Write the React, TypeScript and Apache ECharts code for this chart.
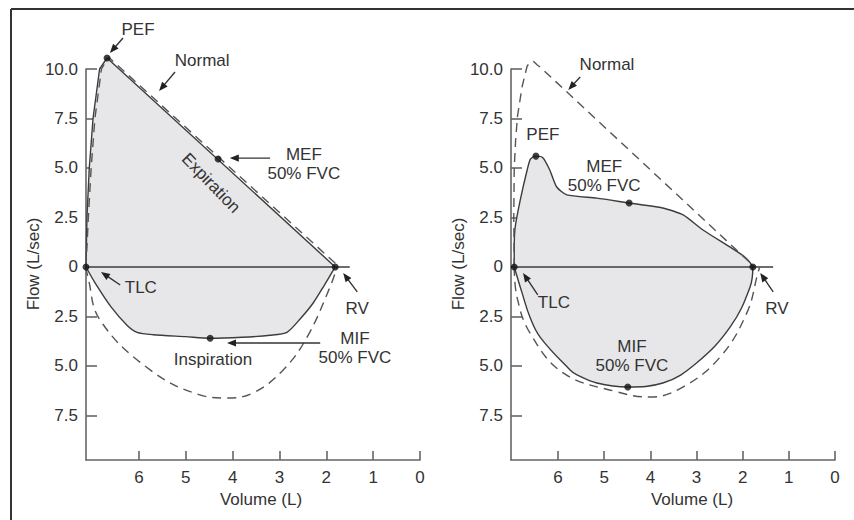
import React, { useEffect, useRef } from "react";
import * as echarts from "echarts";

// ---------- axes ----------
const volumeTicks = [0, 1, 2, 3, 4, 5, 6];
const flowTicks = [-7.5, -5, -2.5, 0, 2.5, 5, 7.5, 10];
const flowMin = -9.75;
const flowMax = 10;
const leftVolumeMax = 7.13;
const rightVolumeMax = 7.02;

// ---------- left panel (restrictive) ----------
const leftExpiration = [[7.13, 0], [7.11, 2.5], [7.06, 5.0], [6.98, 7.5], [6.84, 10.0], [6.68, 10.56], [1.81, 0]];
const leftInspiration = [[7.13, 0], [6.95, -0.75], [6.6, -2.0], [6.25, -2.95], [6.04, -3.3], [5.7, -3.42], [5.0, -3.52], [4.48, -3.6], [3.8, -3.55], [3.2, -3.45], [2.84, -3.3], [2.55, -2.6], [2.28, -1.82], [2.05, -0.95], [1.81, 0]];
const leftNormalExp = [[7.13, 0], [7.08, 2.5], [7.02, 5.0], [6.94, 7.5], [6.8, 10.0], [6.65, 10.6], [1.72, 0]];
const leftNormalInsp = [[7.13, 0], [7.09, -0.5], [6.83, -2.68], [5.76, -5.2], [4.7, -6.46], [4.12, -6.62], [3.56, -6.36], [2.92, -5.2], [2.41, -3.54], [1.92, -1.01], [1.77, 0]];
const leftZeroLine = [[7.13, 0], [1.5, 0]];
const leftPoints = [[7.13, 0], [6.68, 10.56], [4.31, 5.45], [1.81, 0], [4.48, -3.6]];

// ---------- right panel (obstructive) ----------
const rightExpiration = [[6.95, 0], [6.95, 1.0], [6.93, 2.0], [6.82, 3.38], [6.67, 4.9], [6.6, 5.45], [6.48, 5.6], [6.33, 5.52], [6.18, 4.9], [6.03, 4.04], [5.81, 3.64], [5.16, 3.48], [4.46, 3.23], [3.73, 2.98], [3.29, 2.63], [2.86, 1.87], [2.27, 1.0], [1.98, 0.55], [1.85, 0.25], [1.78, 0]];
const rightInspiration = [[6.95, 0], [6.78, -1.31], [6.61, -2.53], [6.39, -3.54], [5.74, -5.2], [5.59, -5.45], [5.16, -5.86], [4.49, -6.06], [3.73, -5.86], [3.0, -4.85], [2.27, -3.03], [1.84, -1.01], [1.78, 0]];
const rightNormalExp = [[6.95, 0], [6.96, 2.5], [6.95, 5.0], [6.92, 6.4], [6.88, 7.6], [6.78, 9.1], [6.67, 10.15], [6.6, 10.35], [6.53, 10.38], [6.45, 10.2], [6.39, 10.1], [1.74, 0]];
const rightNormalInsp = [[6.95, 0], [6.89, -1.52], [6.61, -3.33], [5.89, -5.35], [4.72, -6.31], [4.01, -6.57], [3.29, -6.06], [2.49, -4.55], [1.91, -2.32], [1.67, -0.3], [1.63, 0]];
const rightZeroLine = [[7.02, 0], [1.34, 0]];
const rightPoints = [[6.95, 0], [6.48, 5.6], [4.46, 3.23], [4.49, -6.06], [1.78, 0]];

// ---------- annotations (data coordinates) ----------
const leftLabels = [
  { text: "PEF", at: [6.02, 11.97] },
  { text: "Normal", at: [4.65, 10.45] },
  { text: "MEF\n50% FVC", at: [2.48, 5.2] },
  { text: "Expiration", at: [4.46, 4.24], rotate: -46 },
  { text: "TLC", at: [5.96, -1.06] },
  { text: "RV", at: [1.34, -2.12] },
  { text: "MIF\n50% FVC", at: [1.39, -4.09] },
  { text: "Inspiration", at: [4.42, -4.65] },
];
const leftArrows = [
  [6.34, 11.57, 6.62, 10.81],
  [5.23, 9.85, 5.57, 8.89],
  [3.2, 5.5, 4.06, 5.5],
  [6.4, -0.91, 6.81, -0.25],
  [1.34, -1.26, 1.64, -0.3],
  [2.13, -3.84, 4.12, -3.84],
];
const rightLabels = [
  { text: "Normal", at: [4.94, 10.25] },
  { text: "PEF", at: [6.33, 6.67] },
  { text: "MEF\n50% FVC", at: [5.0, 4.6] },
  { text: "TLC", at: [6.09, -1.77] },
  { text: "RV", at: [1.26, -2.12] },
  { text: "MIF\n50% FVC", at: [4.4, -4.49] },
];
const rightArrows = [
  [5.52, 9.6, 5.78, 8.94],
  [6.44, -1.41, 6.76, -0.3],
  [1.34, -1.26, 1.62, -0.3],
];

const FONT = "'Liberation Sans', Arial, Helvetica, sans-serif";
const TEXT = "#333";
const LINE = "#3c3c3c";
const FILL = "#e7e7e9";

function makeAxes(idx: number, vmax: number) {
  const x = {
    type: "value",
    gridIndex: idx,
    min: 0,
    max: vmax,
    inverse: true,
    axisLine: { show: true, onZero: false, lineStyle: { color: "#666", width: 1.6 } },
    axisTick: { show: true, inside: true, length: 9, customValues: volumeTicks, lineStyle: { color: "#666", width: 1.6 } },
    axisLabel: { show: true, customValues: volumeTicks, margin: 9, fontSize: 17, color: TEXT, fontFamily: FONT },
    splitLine: { show: false },
  };
  const y = {
    type: "value",
    gridIndex: idx,
    min: flowMin,
    max: flowMax,
    axisLine: { show: true, onZero: false, lineStyle: { color: "#666", width: 1.6 } },
    axisTick: { show: true, inside: true, length: 11, customValues: flowTicks, lineStyle: { color: "#666", width: 1.6 } },
    axisLabel: {
      show: true,
      customValues: flowTicks,
      margin: 8,
      fontSize: 17,
      color: TEXT,
      fontFamily: FONT,
      formatter: (v: number) => (Math.abs(v) < 1e-9 ? "0" : Math.abs(v).toFixed(1)),
    },
    splitLine: { show: false },
  };
  return { x, y };
}

function panelSeries(idx: number, d: any) {
  const common = { xAxisIndex: idx, yAxisIndex: idx, symbol: "none", clip: false, silent: true };
  return [
    { ...common, type: "line", data: d.exp, smooth: d.smoothExp, lineStyle: { color: LINE, width: 1.4 }, areaStyle: { color: FILL, opacity: 1 }, z: 2 },
    { ...common, type: "line", data: d.insp, smooth: d.smoothInsp, lineStyle: { color: LINE, width: 1.4 }, areaStyle: { color: FILL, opacity: 1 }, z: 2 },
    { ...common, type: "line", data: d.zero, lineStyle: { color: LINE, width: 1.5 }, z: 3 },
    { ...common, type: "line", data: d.nexp, smooth: false, lineStyle: { color: "#555", width: 1.4, type: [9, 6] }, z: 3 },
    { ...common, type: "line", data: d.ninsp, smooth: 0.4, lineStyle: { color: "#555", width: 1.4, type: [9, 6] }, z: 3 },
    { ...common, type: "scatter", data: d.points, symbol: "circle", symbolSize: 7, itemStyle: { color: "#111" }, z: 5 },
  ];
}

export default function App() {
  const ref = useRef<HTMLDivElement>(null);
  useEffect(() => {
    document.body.style.margin = "0";
    if (!ref.current) return;
    const chart = echarts.init(ref.current, null, { renderer: "svg", width: 854, height: 520 });
    const a0 = makeAxes(0, leftVolumeMax);
    const a1 = makeAxes(1, rightVolumeMax);
    chart.setOption({
      animation: false,
      backgroundColor: "#fff",
      textStyle: { fontFamily: FONT },
      grid: [
        { left: 86, top: 69, width: 334, height: 391 },
        { left: 511, top: 69, width: 324, height: 391 },
      ],
      xAxis: [a0.x, a1.x],
      yAxis: [a0.y, a1.y],
      series: [
        ...panelSeries(0, { exp: leftExpiration, insp: leftInspiration, nexp: leftNormalExp, ninsp: leftNormalInsp, zero: leftZeroLine, points: leftPoints, smoothExp: false, smoothInsp: 0.25 }),
        ...panelSeries(1, { exp: rightExpiration, insp: rightInspiration, nexp: rightNormalExp, ninsp: rightNormalInsp, zero: rightZeroLine, points: rightPoints, smoothExp: 0.2, smoothInsp: 0.4 }),
      ],
    });

    const graphics: any[] = [];
    // frame
    graphics.push({ type: "line", shape: { x1: 11, y1: 9, x2: 11, y2: 520 }, style: { stroke: "#333", lineWidth: 2 } });
    graphics.push({ type: "line", shape: { x1: 11, y1: 9, x2: 854, y2: 9 }, style: { stroke: "#333", lineWidth: 2 } });

    const addPanel = (gi: number, labels: any[], arrows: number[][]) => {
      labels.forEach((l) => {
        const p = chart.convertToPixel({ gridIndex: gi }, l.at) as number[];
        graphics.push({
          type: "text",
          x: p[0],
          y: p[1],
          rotation: l.rotate ? (l.rotate * Math.PI) / 180 : 0,
          z: 10,
          style: { text: l.text, x: 0, y: 0, fill: TEXT, fontSize: 17, fontFamily: FONT, textAlign: "center", textVerticalAlign: "middle", lineHeight: 19 },
        });
      });
      arrows.forEach((ar) => {
        const p1 = chart.convertToPixel({ gridIndex: gi }, [ar[0], ar[1]]) as number[];
        const p2 = chart.convertToPixel({ gridIndex: gi }, [ar[2], ar[3]]) as number[];
        const dx = p2[0] - p1[0];
        const dy = p2[1] - p1[1];
        const len = Math.sqrt(dx * dx + dy * dy) || 1;
        const ux = dx / len;
        const uy = dy / len;
        const L = 9;
        const W = 3.6;
        const bx = p2[0] - ux * L;
        const by = p2[1] - uy * L;
        graphics.push({ type: "line", z: 10, shape: { x1: p1[0], y1: p1[1], x2: bx + ux * 2, y2: by + uy * 2 }, style: { stroke: "#333", lineWidth: 1.4 } });
        graphics.push({
          type: "polygon",
          z: 10,
          shape: { points: [[p2[0], p2[1]], [bx - uy * W, by + ux * W], [bx + uy * W, by - ux * W]] },
          style: { fill: "#222" },
        });
      });
    };
    addPanel(0, leftLabels, leftArrows);
    addPanel(1, rightLabels, rightArrows);

    // axis titles
    graphics.push({ type: "text", x: 33, y: 264, rotation: Math.PI / 2, style: { text: "Flow (L/sec)", x: 0, y: 0, fill: TEXT, fontSize: 17, fontFamily: FONT, textAlign: "center", textVerticalAlign: "middle" } });
    graphics.push({ type: "text", x: 458, y: 264, rotation: Math.PI / 2, style: { text: "Flow (L/sec)", x: 0, y: 0, fill: TEXT, fontSize: 17, fontFamily: FONT, textAlign: "center", textVerticalAlign: "middle" } });
    graphics.push({ type: "text", x: 261, y: 499, style: { text: "Volume (L)", x: 0, y: 0, fill: TEXT, fontSize: 17, fontFamily: FONT, textAlign: "center", textVerticalAlign: "middle" } });
    graphics.push({ type: "text", x: 692, y: 499, style: { text: "Volume (L)", x: 0, y: 0, fill: TEXT, fontSize: 17, fontFamily: FONT, textAlign: "center", textVerticalAlign: "middle" } });

    chart.setOption({ graphic: graphics });
    return () => chart.dispose();
  }, []);
  return <div ref={ref} style={{ width: 854, height: 520 }} />;
}
